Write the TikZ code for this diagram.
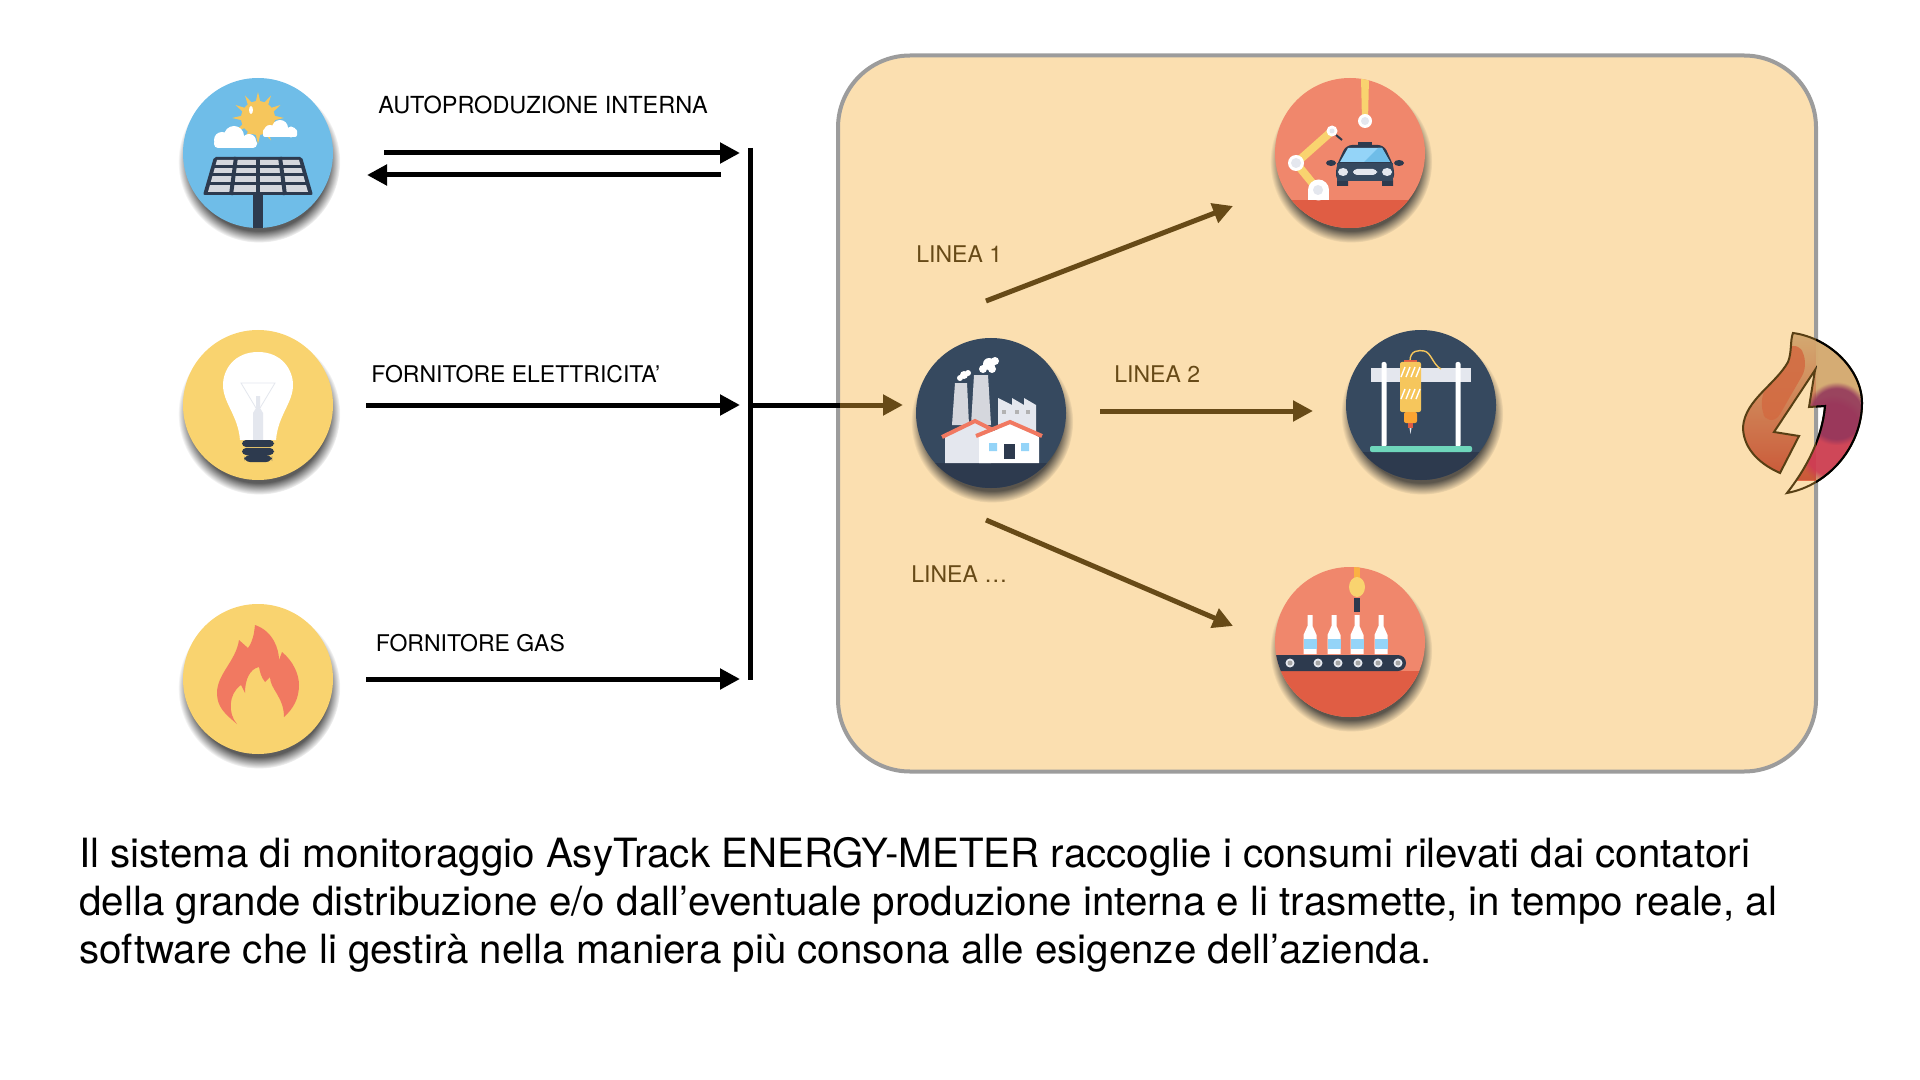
\documentclass[tikz,border=0pt]{standalone}
\usepackage{fontspec}
\setmainfont{TeX Gyre Heros}
\usetikzlibrary{positioning,arrows.meta,shadows,fadings}
\definecolor{boxfill}{HTML}{FBDFB0}
\definecolor{boxline}{HTML}{9C9C9C}
\definecolor{brownline}{HTML}{674A17}
\definecolor{skyblue}{HTML}{6FBDE8}
\definecolor{bulbyellow}{HTML}{F9D36F}
\definecolor{sunyellow}{HTML}{F6C65C}
\definecolor{salmon}{HTML}{F0876C}
\definecolor{redfloor}{HTML}{E05D44}
\definecolor{navy}{HTML}{36495F}
\definecolor{darknavy}{HTML}{2D3A4E}
\definecolor{lightgrey}{HTML}{E4E7EE}
\definecolor{labelblue}{HTML}{94D4F8}
\definecolor{bedteal}{HTML}{6FD6BB}
\definecolor{logotan}{HTML}{EEC080}
\definecolor{logorose}{HTML}{CF3A55}
\definecolor{logoplum}{HTML}{93365C}
\newcommand{\logopath}{(1793,333) .. controls (1830,338) and (1862,370) .. (1862,403)
  .. controls (1862,445) and (1830,485) .. (1787,493)
  .. controls (1805,470) and (1822,440) .. (1825,406) -- (1809,407) -- (1815,370)
  -- (1774,432) -- (1799,436) -- (1780,473)
  .. controls (1755,462) and (1743,445) .. (1743,427)
  .. controls (1745,400) and (1775,385) .. (1788,362)
  .. controls (1792,352) and (1790,340) .. (1793,333) -- cycle}

\begin{document}
\begin{tikzpicture}[x=0.5pt,y=-0.5pt,on grid,
icon/.style={circle,inner sep=0pt,minimum size=75pt,fill=#1,
  general shadow={shadow xshift=.5pt,shadow yshift=-4pt,shadow scale=1.08,opacity=.8,fill=black!80,path fading=circle with fuzzy edge 15 percent}},
power/.style={line width=2.5pt,-{Triangle[length=10pt,width=10pt]}},
line/.style={line width=2.5pt,brownline,-{Triangle[length=10pt,width=10pt]}},
blacklabel/.style={anchor=base west,inner sep=0pt,font=\fontsize{11.5}{14}\selectfont},
brownlabel/.style={blacklabel,text=brownline}]
\useasboundingbox (0,0) rectangle (1920,1080);
\node[rectangle,draw=boxline,fill=boxfill,line width=2pt,rounded corners=36pt,minimum width=489pt,minimum height=358pt] (plant) at (1327,413.5) {};

% sources
\node[icon=skyblue] (solar) at (258,153) {};
\node[icon=bulbyellow] (lamp) [below = 126pt of solar] {};
\node[icon=bulbyellow] (gas) [below = 137pt of lamp] {};
% plant
\node[icon=navy] (factory) at (991,413) {};
\node[icon=salmon] (car) at (1350,153) {};
\node[icon=navy] (printer) at (1421,405) {};
\node[icon=salmon] (bottles) at (1350,642) {};

% solar panel
\begin{scope}[shift={(solar.center)}]
\clip (0,0) circle (75);
\begin{scope}[shift={(0,-35)}]
\foreach \a in {0,30,...,330}
  \fill[sunyellow] (\a-10:15) -- (\a:26) -- (\a+10:15) -- cycle;
\fill[sunyellow] (0,0) circle (17);
\fill[white] (-7,-8) ellipse (2 and 4);
\end{scope}
\fill[white,rounded corners=2pt] (-44,-14) rectangle (-1,-5);
\fill[white] (-36,-13) circle (8) (-24,-17) circle (10) (-9,-12) circle (7);
\fill[white,rounded corners=1pt] (5,-24) rectangle (39,-16);
\fill[white] (12,-22) circle (6) (22,-25) circle (8) (33,-21) circle (5.5);
\fill[darknavy] (-5,40) rectangle (5,76);
\fill[darknavy,rounded corners=1pt] (-44,4) -- (44,4) -- (55,42) -- (-55,42) -- cycle;
\fill[lightgrey!85!gray] (-41,7) -- (41,7) -- (50,39) -- (-50,39) -- cycle;
\foreach \k in {-1,0,1} \draw[darknavy,line width=2pt] (\k*22,4) -- (\k*27,42);
\foreach \r/\w in {14/46,22/48,31/51} \draw[darknavy,line width=1.5pt] (-\w,\r) -- (\w,\r);
\end{scope}

% lamp
\begin{scope}[shift={(lamp.center)}]
\fill[white] (0,-53) .. controls (24,-53) and (35,-35) .. (35,-20) .. controls (35,-2) and (20,10) .. (18,35)
  -- (-18,35) .. controls (-20,10) and (-35,-2) .. (-35,-20) .. controls (-35,-35) and (-24,-53) .. (0,-53) -- cycle;
\fill[lightgrey] (-2,-9) -- (2,-9) -- (2,3) -- (5,8) -- (5,35) -- (-5,35) -- (-5,8) -- (-2,3) -- cycle;
\draw[lightgrey,line width=.4pt] (-2,3) -- (-17,-22) -- (17,-22) -- (2,3);
\fill[darknavy,rounded corners=2pt] (-16,35) rectangle (16,42);
\fill[darknavy,rounded corners=2pt] (-16,43) rectangle (16,50);
\fill[darknavy,rounded corners=3pt] (-14,50) rectangle (14,57);
\end{scope}

% flame
\begin{scope}[shift={(gas.center)}]
\fill[salmon!90!red] (-21,45) .. controls (-33,35) and (-41,28) .. (-41,14) .. controls (-41,-5) and (-22,-18) .. (-19,-39)
  -- (-10,-31) .. controls (-5,-38) and (-4,-45) .. (-3,-54) .. controls (15,-48) and (21,-30) .. (21,-19)
  -- (24,-27) .. controls (35,-18) and (41,-5) .. (41,6) .. controls (41,20) and (35,30) .. (26,38)
  .. controls (26,18) and (12,10) .. (12,-2) -- (7,3) .. controls (3,-2) and (2,-7) .. (1,-12)
  .. controls (-8,-10) and (-13,0) .. (-13,14) -- (-17,6) .. controls (-30,15) and (-30,35) .. (-21,45) -- cycle;
\end{scope}

% factory
\begin{scope}[shift={(factory.center)}]
\clip (0,0) circle (75);
\fill[darknavy] (-80,50) rectangle (80,80);
\fill[lightgrey!85!gray] (-36,-30) -- (-24,-30) -- (-22,12) -- (-39,12) -- cycle;
\fill[lightgrey!85!gray] (-17,-38) -- (-3,-38) -- (0,12) -- (-20,12) -- cycle;
\fill[lightgrey] (7,-15) -- (21,-8) -- (21,-15) -- (33,-8) -- (33,-15) -- (45,-8) -- (45,25) -- (7,25) -- cycle;
\foreach \x in {13,26,37} \fill[gray!60] (\x-2,-3) rectangle (\x+2,1);
\fill[white] (-27,-38) circle (4) (-23,-40) circle (3) (-31,-35) circle (3);
\fill[white] (-2,-49) circle (6) (4,-52) circle (4) (-8,-44) circle (4) (1,-44) circle (4);
\fill[lightgrey] (-46,22) -- (-16,7) -- (0,15) -- (0,50) -- (-46,50) -- cycle;
\draw[salmon!90!red,line width=2pt] (-49,24) -- (-16,8) -- (2,17);
\fill[white] (-12,24) -- (19,11) -- (48,24) -- (48,50) -- (-12,50) -- cycle;
\draw[salmon!90!red,line width=2pt] (-15,23) -- (19,9) -- (51,23);
\fill[labelblue] (-2,30) rectangle (6,38) (30,30) rectangle (38,38);
\fill[darknavy] (13,31) rectangle (24,46);
\end{scope}

% robot and car
\begin{scope}[shift={(car.center)}]
\clip (0,0) circle (75);
\fill[redfloor] (-80,47) rectangle (80,80);
\fill[bulbyellow] (11,-76) -- (19,-76) -- (18,-32) -- (12,-32) -- cycle;
\draw[bulbyellow,line width=4pt] (-32,37) -- (-54,10) -- (-18,-22);
\draw[darknavy,line width=1pt] (-14,-18) -- (-8,-13);
\fill[white] (-31.5,37) circle (10.5);
\fill[white] (-42,37) rectangle (-21,47);
\fill[lightgrey] (-32,37) circle (5);
\foreach \p/\r in {{(-54,10)}/8,{(-18,-22)}/5.5,{(15,-32)}/7} {
  \fill[white] \p circle (\r);
  \fill[lightgrey] \p circle (\r-3);
}
\fill[darknavy] (-13,27) rectangle (-2,33) (32,27) rectangle (43,33);
\fill[darknavy] (8,-11) rectangle (22,-6);
\fill[darknavy] (-19,10) ellipse (5 and 3) (49,10) ellipse (5 and 3);
\fill[darknavy,rounded corners=3pt] (-14,28) -- (-14,14) -- (-4,-8) -- (34,-8) -- (44,14) -- (44,28) -- cycle;
\fill[labelblue] (-10,9) -- (-2,-5) -- (32,-5) -- (40,9) -- cycle;
\fill[skyblue] (14,9) -- (28,-5) -- (32,-5) -- (40,9) -- cycle;
\fill[navy] (-13,10) rectangle (43,28);
\fill[lightgrey] (-7,19) ellipse (5 and 4) (37,19) ellipse (5 and 4);
\fill[lightgrey,rounded corners=2pt] (3,16) rectangle (27,22);
\end{scope}

% 3d printer
\begin{scope}[shift={(printer.center)}]
\clip (0,0) circle (75);
\fill[darknavy] (-80,47) rectangle (80,80);
\fill[lightgrey] (-50,-37) rectangle (50,-23);
\fill[white,rounded corners=1pt] (-39.5,-43) rectangle (-34.5,42) (34.5,-43) rectangle (39.5,42);
\fill[bedteal,rounded corners=1pt] (-51,41) rectangle (51,47);
\draw[sunyellow,line width=.7pt] (-11,-44) .. controls (-11,-55) and (-2,-55) .. (3,-54) .. controls (10,-53) and (12,-40) .. (20,-36);
\fill[redfloor] (-17,-45) rectangle (-4,-42);
\fill[sunyellow,rounded corners=1pt] (-21,-43) rectangle (0,7);
\foreach \y in {-33,-11} \foreach \x in {-18,-13,-8,-3}
  \draw[white,line width=.7pt] (\x-2,\y+5) -- (\x+2,\y-5);
\fill[orange!55!bulbyellow,rounded corners=1pt] (-17,7) rectangle (-4,18);
\fill[redfloor] (-13,18) rectangle (-8,23);
\fill[lightgrey] (-11.5,23) -- (-9.5,23) -- (-10.5,29) -- cycle;
\end{scope}

% bottling line
\begin{scope}[shift={(bottles.center)}]
\clip (0,0) circle (75);
\fill[redfloor] (-80,29) rectangle (80,80);
\fill[bulbyellow!60!orange] (4,-76) rectangle (10,-62);
\fill[bulbyellow] (7,-55) ellipse (8 and 10);
\fill[darknavy] (4,-44) rectangle (10,-30);
\foreach \x in {-40,-16,7,31} {
  \fill[white] (\x-6.5,12) -- (\x-6.5,-7) -- (\x-2.5,-16) -- (\x-2.5,-27) -- (\x+2.5,-27) -- (\x+2.5,-16) -- (\x+6.5,-7) -- (\x+6.5,12) -- cycle;
  \fill[labelblue] (\x-6.5,-3) rectangle (\x+6.5,7);
}
\fill[darknavy,rounded corners=4pt] (-90,13) rectangle (56,29);
\foreach \x in {-60,-32,-12,8,28,48} {
  \fill[lightgrey] (\x,21) circle (4.5);
  \fill[gray!70] (\x,21) circle (2.5);
}
\end{scope}

% logo
\begin{scope}[opacity=.88]
\clip \logopath;
\fill[top color=logotan,bottom color=redfloor!90!orange] (1740,330) rectangle (1816,480);
\fill[top color=logotan,middle color=redfloor!85!white,bottom color=logotan] (1816,330) rectangle (1865,495);
\fill[redfloor!60!brown,rounded corners=8pt] (1793,338) -- (1810,362) -- (1772,428) -- (1757,405) -- cycle;
\fill[logorose,path fading=circle with fuzzy edge 20 percent] (1795,395) rectangle (1870,485);
\fill[logoplum,path fading=circle with fuzzy edge 20 percent] (1805,382) rectangle (1868,445);
\end{scope}
\draw[brownline!85!black,line width=1pt] \logopath;
\begin{scope}
\clip (1816,320) rectangle (1870,500);
\draw[black,line width=1pt] \logopath;
\end{scope}

% connectors
\coordinate (bus_top) at (750.5,148);
\coordinate (bus_bottom) at (750.5,680);
\coordinate (solar_in) at (384,153);
\coordinate (solar_end) at (740,153);
\coordinate (back_start) at (721,175);
\coordinate (back_end) at (367,175);
\coordinate (lamp_in) at (366,405);
\coordinate (lamp_end) at (740,405);
\coordinate (gas_in) at (366,679);
\coordinate (gas_end) at (740,679);
\coordinate (bus_out) at (750.5,405);
\coordinate (plant_in) at (840,405);
\coordinate (factory_in) at (903,405);
\coordinate (line1_start) at (986,301);
\coordinate (line1_end) at (1233,206);
\coordinate (line2_start) at (1100,411);
\coordinate (line2_end) at (1313,411);
\coordinate (line3_start) at (986,520);
\coordinate (line3_end) at (1233,626);
\draw[line width=2.5pt] (bus_top) -- (bus_bottom);
\draw[power] (solar_in) -- (solar_end);
\draw[power] (back_start) -- (back_end);
\draw[power] (lamp_in) -- (lamp_end);
\draw[power] (gas_in) -- (gas_end);
\draw[line width=2.5pt] (bus_out) -- (plant_in);
\draw[line] (plant_in) -- (factory_in);
\draw[line] (line1_start) -- (line1_end);
\draw[line] (line2_start) -- (line2_end);
\draw[line] (line3_start) -- (line3_end);

% labels
\node[blacklabel,font=\fontsize{11.75}{14}\selectfont] (auto_label) at (378,114) {AUTOPRODUZIONE INTERNA};
\node[blacklabel] (lamp_label) at (371,382) {FORNITORE ELETTRICITA’};
\node[blacklabel] (gas_label) at (375.5,651) {FORNITORE GAS};
\node[brownlabel] (line1_label) at (916,263) {LINEA 1};
\node[brownlabel] (line2_label) at (1114,382) {LINEA 2};
\node[brownlabel] (line3_label) at (911,582) {LINEA …};
\node[anchor=north west,inner sep=0pt,align=left,font=\fontsize{20.15}{24}\selectfont] (caption) at (79,837) {Il sistema di monitoraggio AsyTrack ENERGY-METER raccoglie i consumi rilevati dai contatori\\
della grande distribuzione e/o dall’eventuale produzione interna e li trasmette, in tempo reale, al\\
software che li gestirà nella maniera più consona alle esigenze dell’azienda.};
\end{tikzpicture}
\end{document}
